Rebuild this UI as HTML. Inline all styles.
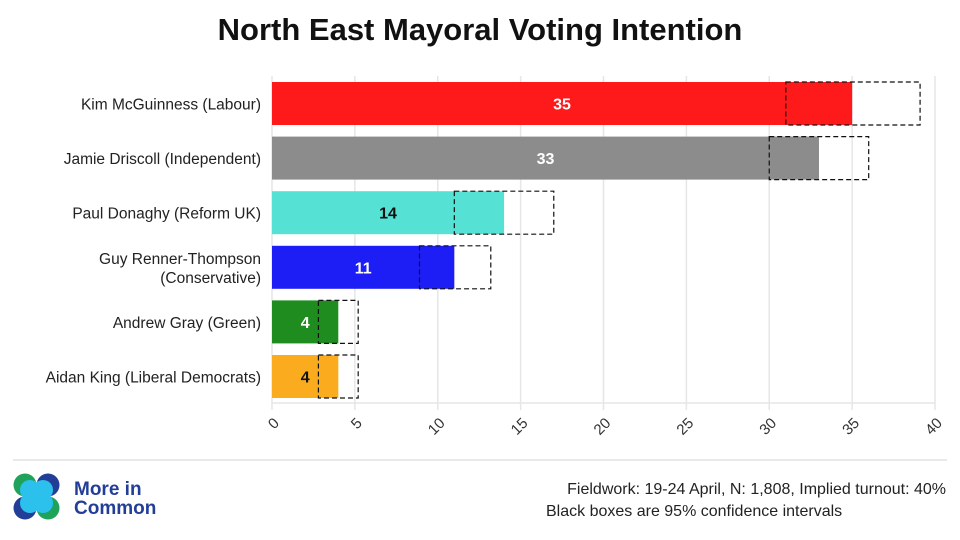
<!DOCTYPE html>
<html><head><meta charset="utf-8">
<style>
body{margin:0;width:960px;height:540px;background:#fff;overflow:hidden;font-family:"Liberation Sans",sans-serif;}
svg{display:block}
</style></head>
<body>
<svg id="chart" width="960" height="540" xmlns="http://www.w3.org/2000/svg">
<text x="480" y="40" text-anchor="middle" font-size="31" font-weight="bold" fill="#111">North East Mayoral Voting Intention</text>
<g id="grid"></g><g id="bars"></g><g id="labels"></g><g id="ticks"></g>
<line x1="13" y1="460" x2="947" y2="460" stroke="#e2e2e2" stroke-width="1.5"/>
<g>
<circle cx="25" cy="485" r="11.5" fill="#1fa35a"/><circle cx="48" cy="485" r="11.5" fill="#233e96"/>
<circle cx="25" cy="508" r="11.5" fill="#233e96"/><circle cx="48" cy="508" r="11.5" fill="#1fa35a"/>
<circle cx="30" cy="490" r="10" fill="#2cc0ec"/><circle cx="43" cy="490" r="10" fill="#2cc0ec"/>
<circle cx="30" cy="503" r="10" fill="#2cc0ec"/><circle cx="43" cy="503" r="10" fill="#2cc0ec"/>
<text x="74" y="495" font-size="19" font-weight="bold" fill="#233e96">More in</text>
<text x="74" y="514" font-size="19" font-weight="bold" fill="#233e96">Common</text>
</g>
<text x="946" y="494" text-anchor="end" font-size="16" fill="#222">Fieldwork: 19-24 April, N: 1,808, Implied turnout: 40%</text>
<text x="546" y="516" font-size="16" fill="#222">Black boxes are 95% confidence intervals</text>
</svg>
<script>
const categories=["Kim McGuinness (Labour)","Jamie Driscoll (Independent)","Paul Donaghy (Reform UK)","Guy Renner-Thompson|(Conservative)","Andrew Gray (Green)","Aidan King (Liberal Democrats)"];
const values=[35,33,14,11,4,4];
const ciLow=[31,30,11,8.9,2.8,2.8];
const ciHigh=[39.1,36,17,13.2,5.2,5.2];
const colors=["#fe1a1a","#8c8c8c","#55e2d5","#1d1ef5","#1f8c1f","#fbab1e"];
const labelColors=["#fff","#fff","#111","#fff","#fff","#111"];
const ticks=[0,5,10,15,20,25,30,35,40];
const NS="http://www.w3.org/2000/svg";
const x=v=>272+v*(663/40);
const rowY=i=>82+i*54.6;
const bh=43;
function mk(t,a,p){const e=document.createElementNS(NS,t);for(const k in a)e.setAttribute(k,a[k]);p.appendChild(e);return e;}
const grid=document.getElementById('grid'),bars=document.getElementById('bars'),labs=document.getElementById('labels'),tk=document.getElementById('ticks');
ticks.forEach(t=>{
 const l=mk('line',{x1:x(t),x2:x(t),y1:76,y2:410,stroke:'#e6e6e6','stroke-width':1.5},grid);
 
 
 const ax=x(t)+8, ay=424;
 const tx=mk('text',{x:ax,y:ay,'text-anchor':'end','font-size':15,fill:'#333',transform:`rotate(-45 ${ax} ${ay})`},tk);
 tx.textContent=t;
 
 
});
mk('line',{x1:272,x2:935,y1:403,y2:403,stroke:'#e6e6e6','stroke-width':1.5},grid);
categories.forEach((c,i)=>{
 const y=rowY(i);
 const r=mk('rect',{x:x(0),y:y,width:x(values[i])-x(0),height:bh,fill:colors[i]},bars);
 
 
 const b=mk('rect',{x:x(ciLow[i]),y:y,width:x(ciHigh[i])-x(ciLow[i]),height:bh,fill:'none',stroke:'#111','stroke-width':1.2,'stroke-dasharray':'5,3'},bars);
 
 
 const v=mk('text',{x:(x(0)+x(values[i]))/2,y:y+bh/2+6,'text-anchor':'middle','font-size':16,'font-weight':'bold',fill:labelColors[i]},labs);
 v.textContent=values[i];
 
 
 const parts=c.split('|');
 parts.forEach((p,j)=>{
  const t=mk('text',{x:261,y:y+bh/2+6+(j-(parts.length-1)/2)*19,'text-anchor':'end','font-size':15.5,fill:'#222'},labs);
  t.textContent=p;
  
  
 });
});
</script>
</body></html>
